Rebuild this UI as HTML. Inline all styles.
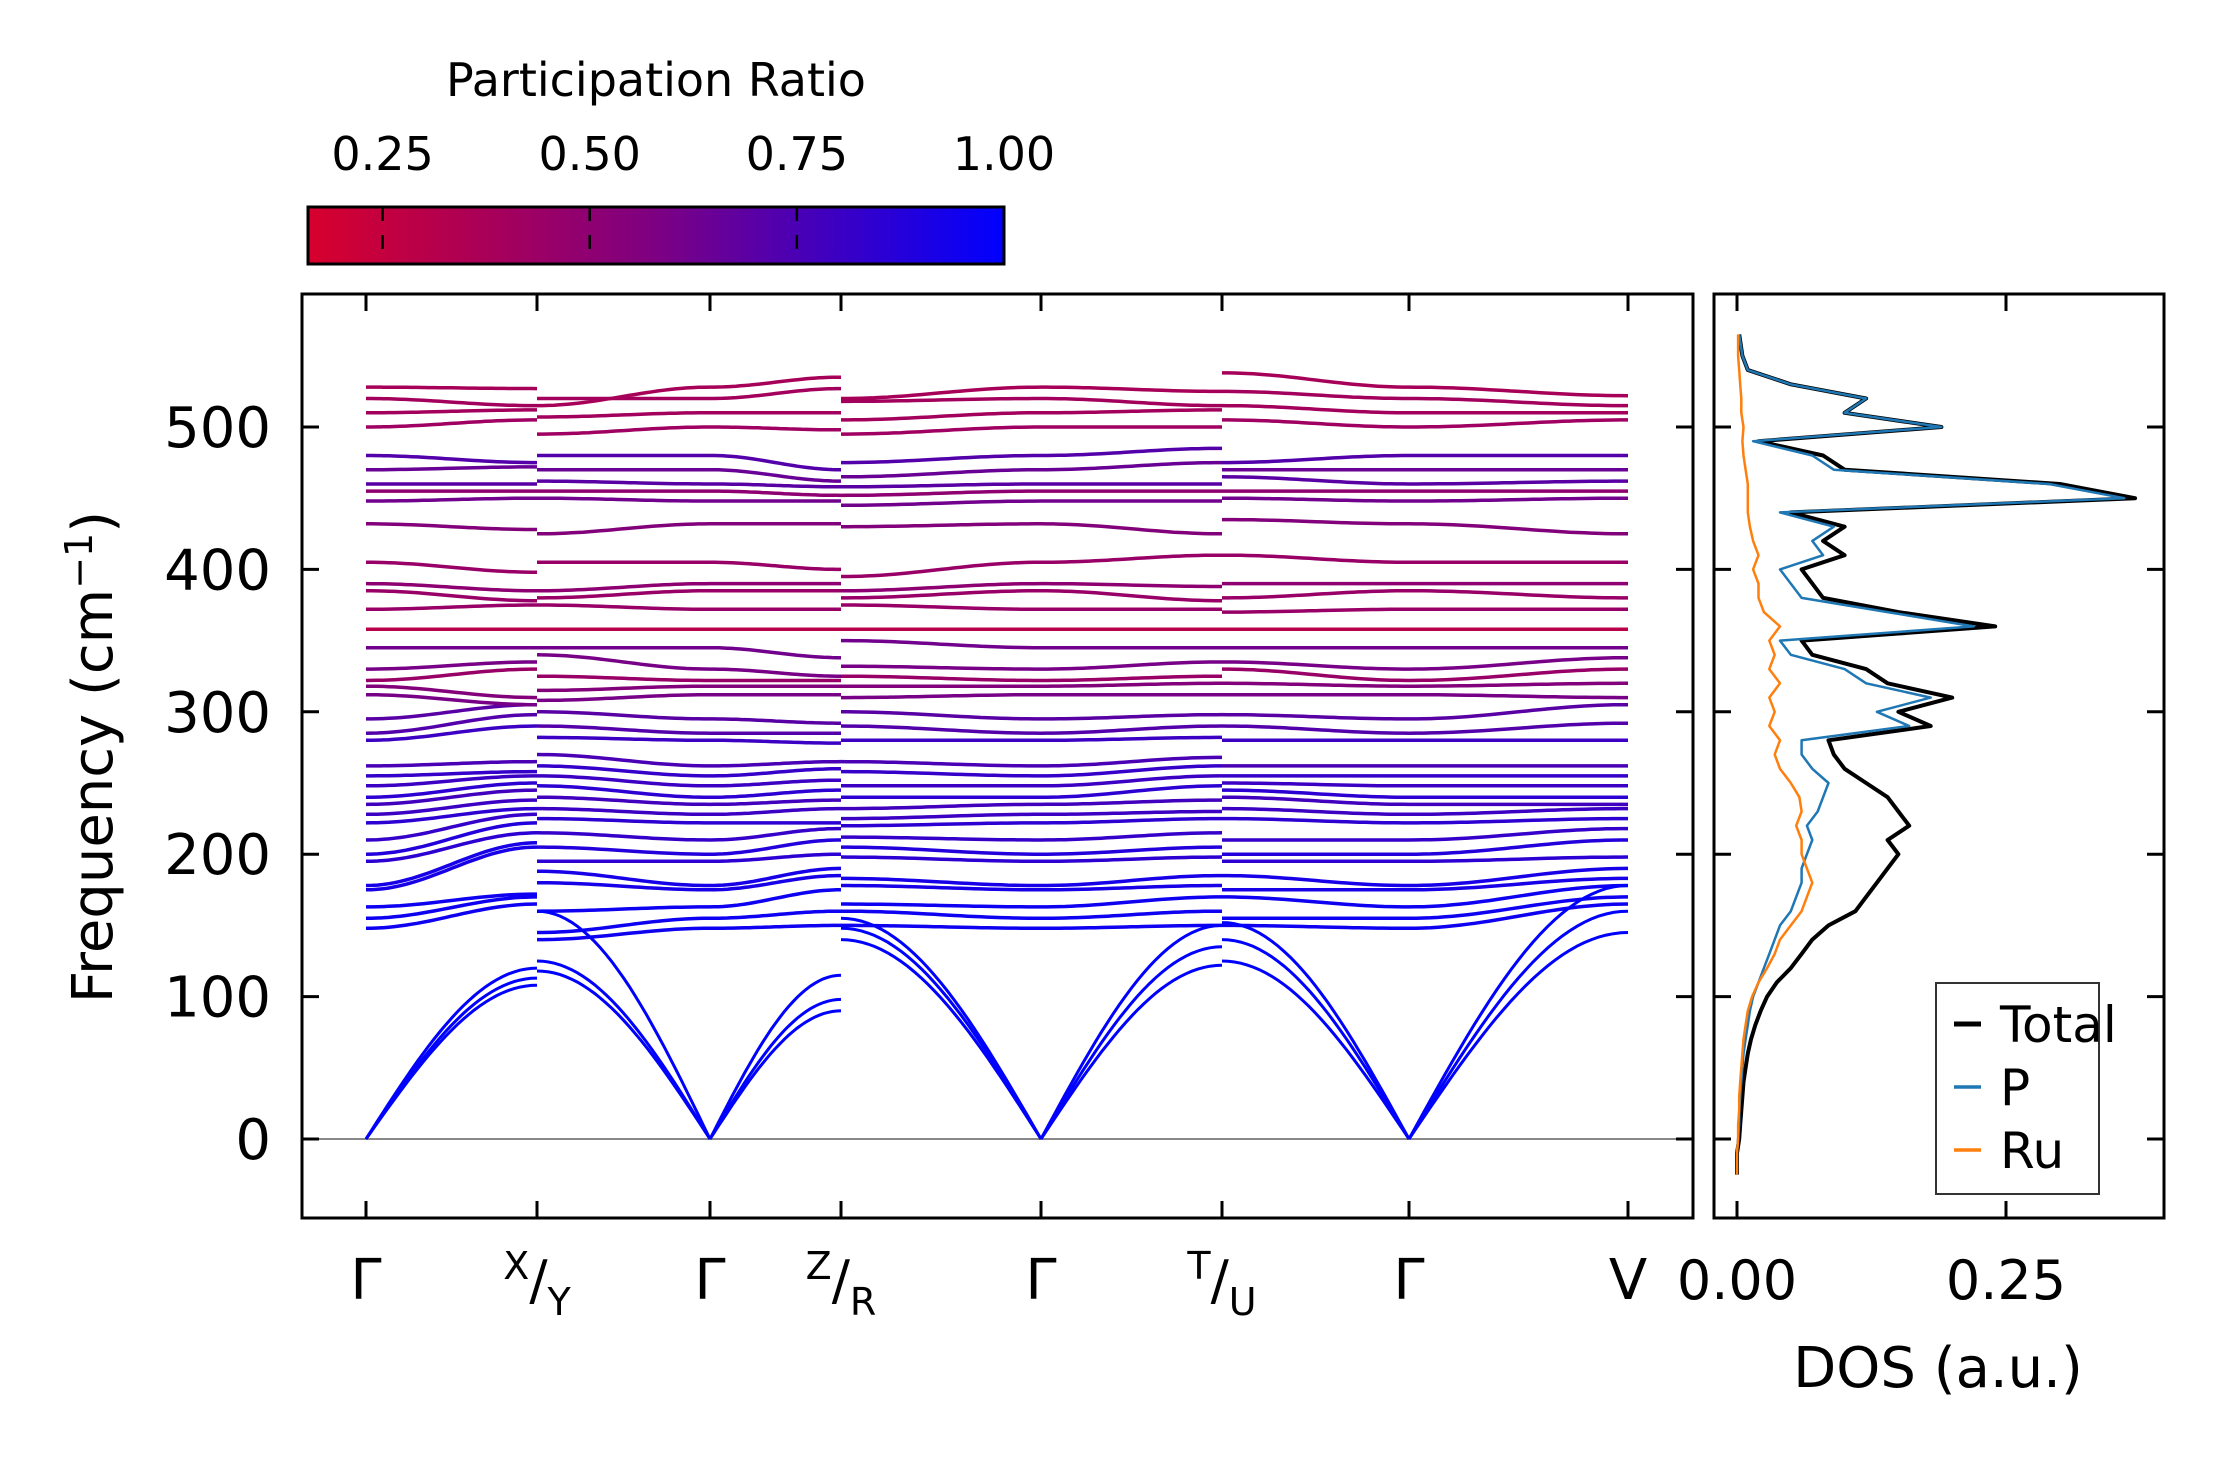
<!DOCTYPE html>
<html><head><meta charset="utf-8"><style>
body{margin:0;background:#fff}
svg text{font-family:"DejaVu Sans","Liberation Sans",sans-serif;fill:#000}
</style></head><body>
<svg id="fig" width="2222" height="1455" viewBox="0 0 2222 1455" xmlns="http://www.w3.org/2000/svg">
<defs>
<linearGradient id="cg" x1="0" x2="1" y1="0" y2="0">
<stop offset="0" stop-color="rgb(215,0,45)"/>
<stop offset="0.5" stop-color="rgb(125,0,130)"/>
<stop offset="1" stop-color="rgb(0,0,255)"/>
</linearGradient>
<clipPath id="mainclip"><rect x="302" y="294" width="1391" height="924"/></clipPath>
<clipPath id="dosclip"><rect x="1714" y="294" width="450" height="924"/></clipPath>
</defs>
<g id="colorbar">
<text x="656" y="96" font-size="46" text-anchor="middle">Participation Ratio</text>
<rect x="308" y="207" width="696" height="57" fill="url(#cg)" stroke="#000" stroke-width="3"/>
<g id="cbticks"></g>
</g>
<g id="main"></g>
<g id="dos"></g>
<text transform="translate(112,757) rotate(-90)" font-size="56" text-anchor="middle">Frequency (cm<tspan dy="-20" font-size="38">−1</tspan><tspan dy="20">)</tspan></text>
<text x="1938" y="1387" font-size="56" text-anchor="middle">DOS (a.u.)</text>
</svg>
<script>
const NS="http://www.w3.org/2000/svg";
const symLabels=["Γ","X/Y","Γ","Z/R","Γ","T/U","Γ","V"];
const yTicks=[0,100,200,300,400,500];
const cbTicks=[0.25,0.50,0.75,1.00];
const gammaF=[148,155,163,175,178,195,200,210,222,228,235,240,248,255,262,280,285,295,312,318,322,330,345,358,372,385,390,405,432,448,455,460,470,480,500,510,520,528];
const ratio=[0.95,0.95,0.95,0.92,0.92,0.85,0.88,0.82,0.85,0.8,0.78,0.85,0.8,0.82,0.75,0.8,0.72,0.7,0.6,0.55,0.45,0.6,0.62,0.3,0.45,0.45,0.5,0.45,0.55,0.62,0.5,0.7,0.65,0.72,0.42,0.4,0.4,0.38];
const fX=[165,170,172,205,208,215,222,228,232,238,245,250,255,258,265,290,298,305,305,310,330,335,345,358,375,378,385,398,428,450,455,460,472,475,505,512,515,527];
const fY=[140,145,160,180,188,195,205,215,225,232,240,248,255,262,270,282,290,300,308,315,325,340,345,358,375,380,385,405,425,450,455,462,470,480,495,507,520,515];
const fZ=[150,160,175,185,190,200,210,218,222,232,238,245,252,260,265,278,285,292,312,318,322,325,338,358,372,385,390,400,432,448,452,458,462,470,498,510,527,535];
const fR=[150,160,165,178,183,198,205,212,220,225,232,240,248,258,265,280,290,300,310,318,325,332,350,358,375,380,385,395,430,445,452,458,465,475,495,505,518,520];
const fT=[150,160,170,178,185,198,205,215,225,230,238,248,255,262,268,282,290,298,312,320,325,335,345,358,372,378,388,410,425,448,455,460,475,485,500,512,515,525];
const fU=[150,155,170,175,185,195,200,210,225,232,240,245,250,255,262,280,290,298,312,320,330,335,345,358,370,380,390,410,435,450,455,465,470,475,505,515,525,538];
const fV=[165,170,178,183,190,198,210,218,225,232,235,240,248,255,262,280,292,305,310,320,330,338,345,358,372,380,390,405,425,450,455,462,470,480,505,510,515,522];
const acX=[108,113,120];
const acY=[118,125,160];
const acZ=[90,98,115];
const acR=[140,148,155];
const acT=[122,135,150];
const acU=[125,140,152];
const acV=[145,160,178];
const dosFreq=[-25,-10,0,10,20,30,40,50,60,70,80,90,100,110,120,130,140,150,160,170,180,190,200,210,220,230,240,250,260,270,280,290,300,310,320,330,340,350,360,370,380,390,400,410,420,430,440,450,460,470,480,490,500,510,520,530,540,550,565];
const dosTotal=[0,0,0.002,0.003,0.004,0.005,0.006,0.008,0.01,0.013,0.017,0.022,0.028,0.037,0.05,0.06,0.07,0.085,0.11,0.12,0.13,0.14,0.15,0.14,0.16,0.15,0.14,0.12,0.1,0.09,0.085,0.18,0.15,0.2,0.14,0.12,0.07,0.06,0.24,0.15,0.08,0.07,0.06,0.1,0.08,0.1,0.05,0.37,0.3,0.1,0.08,0.02,0.19,0.1,0.12,0.05,0.01,0.005,0.002];
const dosP=[0,0,0.001,0.002,0.002,0.003,0.004,0.005,0.006,0.008,0.01,0.012,0.015,0.02,0.025,0.03,0.035,0.04,0.05,0.055,0.06,0.06,0.065,0.07,0.065,0.075,0.08,0.085,0.07,0.06,0.06,0.16,0.13,0.18,0.12,0.1,0.05,0.04,0.22,0.14,0.06,0.05,0.04,0.08,0.07,0.09,0.04,0.36,0.29,0.09,0.07,0.015,0.19,0.1,0.12,0.05,0.01,0.005,0.002];
const dosRu=[0,0,0.001,0.001,0.002,0.002,0.003,0.004,0.005,0.006,0.008,0.01,0.014,0.02,0.028,0.035,0.04,0.05,0.06,0.065,0.07,0.065,0.06,0.06,0.055,0.06,0.058,0.05,0.04,0.035,0.04,0.03,0.035,0.03,0.04,0.03,0.035,0.03,0.04,0.025,0.02,0.02,0.015,0.02,0.015,0.012,0.01,0.01,0.01,0.008,0.006,0.005,0.006,0.004,0.004,0.003,0.002,0.001,0.001];

const symX=[366,537,710,841,1041,1222,1409,1628];
const fy=f=>1139-f*1.424;
const dx=v=>1737+v*1076;
function mk(tag,attrs,parent){const e=document.createElementNS(NS,tag);for(const k in attrs)e.setAttribute(k,attrs[k]);parent.appendChild(e);return e;}
function col(r){let t=(r-0.16)/0.84;t=Math.max(0,Math.min(1,t));
 let R,B;if(t<0.5){const u=t/0.5;R=215+(125-215)*u;B=45+(130-45)*u;}else{const u=(t-0.5)/0.5;R=125*(1-u);B=130+125*u;}
 return `rgb(${R|0},0,${B|0})`;}
const main=document.getElementById('main');
const cbt=document.getElementById('cbticks');
cbTicks.forEach(v=>{const x=308+(v-0.16)/0.84*696;
 const l=mk('line',{x1:x,x2:x,y1:207,y2:264,stroke:'#000','stroke-width':2.5,'stroke-dasharray':'14,14'},cbt);
 
 const t=mk('text',{x:x,y:170,'font-size':46,'text-anchor':'middle'},cbt);t.textContent=v.toFixed(2);
 });
const zl=mk('line',{x1:302,x2:1693,y1:fy(0),y2:fy(0),stroke:'#888','stroke-width':2},main);

const bands=mk('g',{'clip-path':'url(#mainclip)'},main);
const segs=[[0,1,gammaF,fX,acX,1],[1,2,fY,gammaF,acY,-1],[2,3,gammaF,fZ,acZ,1],[3,4,fR,gammaF,acR,-1],[4,5,gammaF,fT,acT,1],[5,6,fU,gammaF,acU,-1],[6,7,gammaF,fV,acV,1]];
segs.forEach(s=>{const x0=symX[s[0]],x1=symX[s[1]];const N=30;
 s[2].forEach((a,i)=>{const b=s[3][i];let d='';
  for(let k=0;k<=N;k++){const t=k/N;const w=(1-Math.cos(Math.PI*t))/2;const f=a+(b-a)*w;d+=(k?'L':'M')+(x0+(x1-x0)*t).toFixed(1)+','+fy(f).toFixed(1);}
  const p=mk('path',{d:d,fill:'none',stroke:col(ratio[i]),'stroke-width':3.5},bands);
  });
 s[4].forEach(e=>{let d='';
  for(let k=0;k<=N;k++){const t=k/N;const u=s[5]>0?t:1-t;const f=e*Math.sin(Math.PI/2*u);d+=(k?'L':'M')+(x0+(x1-x0)*t).toFixed(1)+','+fy(f).toFixed(1);}
  const p=mk('path',{d:d,fill:'none',stroke:col(1),'stroke-width':3},bands);
  });
});
const fr=mk('rect',{x:302,y:294,width:1391,height:924,fill:'none',stroke:'#000','stroke-width':3},main);

symX.forEach((x,i)=>{mk('line',{x1:x,x2:x,y1:1218,y2:1201,stroke:'#000','stroke-width':3},main);
 mk('line',{x1:x,x2:x,y1:294,y2:311,stroke:'#000','stroke-width':3},main);
 const lab=symLabels[i];let t;
 if(lab.includes('/')){const [a,b]=lab.split('/');t=mk('text',{x:x,y:1299,'font-size':54,'text-anchor':'middle'},main);
  t.innerHTML=`<tspan font-size="38" dy="-20">${a}</tspan><tspan dy="20">/</tspan><tspan font-size="38" dy="16">${b}</tspan>`;}
 else{t=mk('text',{x:x,y:1299,'font-size':56,'text-anchor':'middle'},main);t.textContent=lab;}
 });
yTicks.forEach(v=>{const y=fy(v);mk('line',{x1:302,x2:319,y1:y,y2:y,stroke:'#000','stroke-width':3},main);
 mk('line',{x1:1693,x2:1676,y1:y,y2:y,stroke:'#000','stroke-width':3},main);
 const t=mk('text',{x:271,y:y+20,'font-size':56,'text-anchor':'end'},main);t.textContent=v;
 });
const dos=document.getElementById('dos');
const dg=mk('g',{'clip-path':'url(#dosclip)'},dos);
function dline(arr,c,w,name){let d='';arr.forEach((v,i)=>{d+=(i?'L':'M')+dx(v).toFixed(1)+','+fy(dosFreq[i]).toFixed(1);});
 const p=mk('path',{d:d,fill:'none',stroke:c,'stroke-width':w,'stroke-linejoin':'round'},dg);
 }
dline(dosTotal,'#000',4,'dos-total-line');
dline(dosP,'#1f77b4',2.5,'dos-p-line');
dline(dosRu,'#ff7f0e',2.5,'dos-ru-line');
const df=mk('rect',{x:1714,y:294,width:450,height:924,fill:'none',stroke:'#000','stroke-width':3},dos);

yTicks.forEach(v=>{const y=fy(v);mk('line',{x1:1714,x2:1731,y1:y,y2:y,stroke:'#000','stroke-width':3},dos);
 mk('line',{x1:2164,x2:2147,y1:y,y2:y,stroke:'#000','stroke-width':3},dos);});
[0,0.25].forEach(v=>{const x=dx(v);mk('line',{x1:x,x2:x,y1:1218,y2:1201,stroke:'#000','stroke-width':3},dos);
 mk('line',{x1:x,x2:x,y1:294,y2:311,stroke:'#000','stroke-width':3},dos);
 const t=mk('text',{x:x,y:1299,'font-size':54,'text-anchor':'middle'},dos);t.textContent=v.toFixed(2);
 });
const lg=mk('g',{},dos);
mk('rect',{x:1936,y:983,width:163,height:211,fill:'#fff',stroke:'#333','stroke-width':2},lg);
[['Total','#000',4],['P','#1f77b4',2.5],['Ru','#ff7f0e',2.5]].forEach((e,i)=>{const y=1024+i*63;
 const l=mk('line',{x1:1954,x2:1981,y1:y,y2:y,stroke:e[1],'stroke-width':e[2]+1},lg);
 
 const t=mk('text',{x:2000,y:y+18,'font-size':50},lg);t.textContent=e[0];
 });
</script>
</body></html>
